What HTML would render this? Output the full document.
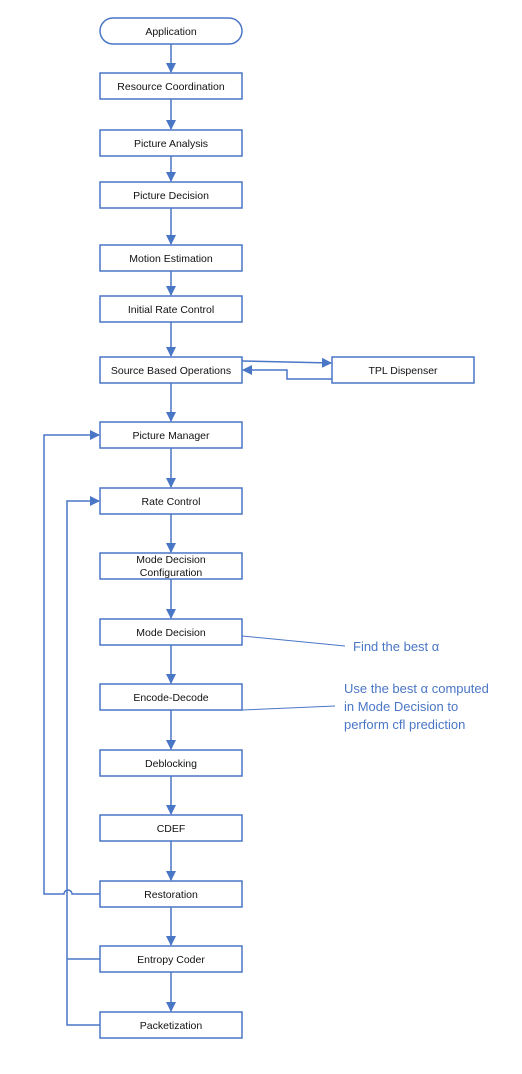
<!DOCTYPE html>
<html><head><style>
body{margin:0;background:#fff;width:522px;height:1069px;overflow:hidden}
</style></head><body>
<svg width="522" height="1069" xmlns="http://www.w3.org/2000/svg" font-family="Liberation Sans, sans-serif">
<defs><marker id="a" markerWidth="10" markerHeight="10" refX="9" refY="5" orient="auto" markerUnits="userSpaceOnUse"><path d="M0,0 L10,5 L0,10 z" fill="#4a76c6"/></marker></defs>
<g fill="#fff" stroke="#4a76c6" stroke-width="1.5">
<rect x="100" y="18" width="142" height="26" rx="13"/>
<rect x="100" y="73" width="142" height="26"/>
<rect x="100" y="130" width="142" height="26"/>
<rect x="100" y="182" width="142" height="26"/>
<rect x="100" y="245" width="142" height="26"/>
<rect x="100" y="296" width="142" height="26"/>
<rect x="100" y="357" width="142" height="26"/>
<rect x="332" y="357" width="142" height="26"/>
<rect x="100" y="422" width="142" height="26"/>
<rect x="100" y="488" width="142" height="26"/>
<rect x="100" y="553" width="142" height="26"/>
<rect x="100" y="619" width="142" height="26"/>
<rect x="100" y="684" width="142" height="26"/>
<rect x="100" y="750" width="142" height="26"/>
<rect x="100" y="815" width="142" height="26"/>
<rect x="100" y="881" width="142" height="26"/>
<rect x="100" y="946" width="142" height="26"/>
<rect x="100" y="1012" width="142" height="26"/>
</g>
<g stroke="#4a76c6" stroke-width="1.5" fill="none" marker-end="url(#a)">
<path d="M171 44V72"/><path d="M171 99V129"/><path d="M171 156V181"/><path d="M171 208V244"/>
<path d="M171 271V295"/><path d="M171 322V356"/><path d="M171 383V421"/><path d="M171 448V487"/>
<path d="M171 514V552"/><path d="M171 579V618"/><path d="M171 645V683"/><path d="M171 710V749"/>
<path d="M171 776V814"/><path d="M171 841V880"/><path d="M171 907V945"/><path d="M171 972V1011"/>
<path d="M242 361L331 363"/>
<path d="M332 379H287V370H243"/>
<path d="M100 894H72A4 4 0 0 0 64 894H44V435H99"/>
<path d="M100 1025H67V501H99"/>
</g>
<path d="M100 959H67" stroke="#4a76c6" stroke-width="1.5"/>
<path d="M242 636L345 646M242 710L335 706" stroke="#4a76c6" stroke-width="1"/>
<g font-size="10.5" fill="#111" text-anchor="middle">
<text x="171" y="35">Application</text>
<text x="171" y="90">Resource Coordination</text>
<text x="171" y="147">Picture Analysis</text>
<text x="171" y="199">Picture Decision</text>
<text x="171" y="262">Motion Estimation</text>
<text x="171" y="313">Initial Rate Control</text>
<text x="171" y="374">Source Based Operations</text>
<text x="403" y="374">TPL Dispenser</text>
<text x="171" y="439">Picture Manager</text>
<text x="171" y="505">Rate Control</text>
<text x="171" y="563">Mode Decision</text>
<text x="171" y="576">Configuration</text>
<text x="171" y="636">Mode Decision</text>
<text x="171" y="701">Encode-Decode</text>
<text x="171" y="767">Deblocking</text>
<text x="171" y="832">CDEF</text>
<text x="171" y="898">Restoration</text>
<text x="171" y="963">Entropy Coder</text>
<text x="171" y="1029">Packetization</text>
</g>
<g font-size="13" fill="#4a76c6">
<text x="353" y="651">Find the best α</text>
<text x="344" y="693">Use the best α computed</text>
<text x="344" y="711">in Mode Decision to</text>
<text x="344" y="729">perform cfl prediction</text>
</g>
</svg>
</body></html>
